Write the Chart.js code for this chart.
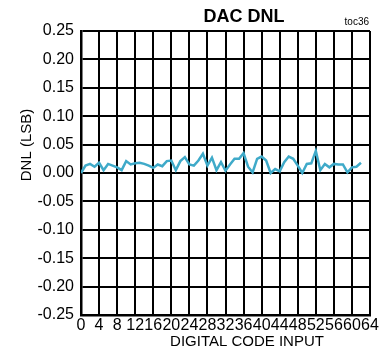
<!DOCTYPE html>
<html>
<head>
<meta charset="utf-8">
<title>DAC DNL</title>
<script src="https://cdn.jsdelivr.net/npm/chart.js@4.4.1/dist/chart.umd.min.js"></script>
<style>
  html, body { margin: 0; padding: 0; background: #fff; }
  canvas { display: block; }
</style>
</head>
<body>
<canvas id="dnlChart" width="386" height="362"></canvas>
<script>
// Codigos de entrada y DNL medido (LSB)
var codes = [0, 1, 2, 3, 4, 5, 6, 7, 8, 9, 10, 11, 12, 13, 14, 15, 16, 17, 18, 19, 20,
    21, 22, 23, 24, 25, 26, 27, 28, 29, 30, 31, 32, 33, 34, 35, 36, 37, 38, 39, 40,
    41, 42, 43, 44, 45, 46, 47, 48, 49, 50, 51, 52, 53, 54, 55, 56, 57, 58, 59, 60,
    61, 62];
var dnl = [0.000, 0.013, 0.016, 0.011, 0.018, 0.005, 0.016, 0.013, 0.010, 0.005, 0.021,
    0.015, 0.017, 0.018, 0.016, 0.013, 0.009, 0.015, 0.012, 0.021, 0.022, 0.005, 0.021,
    0.028, 0.015, 0.013, 0.022, 0.034, 0.013, 0.027, 0.005, 0.019, 0.004, 0.015, 0.025,
    0.025, 0.035, 0.011, 0.001, 0.025, 0.029, 0.022, 0.000, 0.007, 0.003, 0.019, 0.029,
    0.025, 0.013, 0.000, 0.016, 0.017, 0.039, 0.005, 0.016, 0.010, 0.016, 0.015, 0.015,
    0.001, 0.010, 0.011, 0.018];

var xTicks = [0, 4, 8, 12, 16, 20, 24, 28, 32, 36, 40, 44, 48, 52, 56, 60, 64];
var yTicks = [-0.25, -0.20, -0.15, -0.10, -0.05, 0.00, 0.05, 0.10, 0.15, 0.20, 0.25];

var fontFamily = '"Liberation Sans", Arial, sans-serif';

// Textos fijos: titulo, referencia y titulos de ejes
var textos = {
    id: 'textos',
    afterDraw: function (chart) {
        var ctx = chart.ctx;
        ctx.save();
        ctx.fillStyle = '#000';
        ctx.textBaseline = 'middle';

        ctx.textAlign = 'center';
        ctx.font = 'bold 18px ' + fontFamily;
        ctx.fillText('DAC DNL', 244, 17);

        ctx.textAlign = 'right';
        ctx.font = '10px ' + fontFamily;
        ctx.fillText('toc36', 369, 22);

        ctx.textAlign = 'center';
        ctx.font = '15px ' + fontFamily;
        ctx.fillText('DIGITAL CODE INPUT', 247, 342);

        ctx.translate(27, 145);
        ctx.rotate(-Math.PI / 2);
        ctx.fillText('DNL (LSB)', 0, 0);
        ctx.restore();
    }
};

var ctx = document.getElementById('dnlChart').getContext('2d');
var dnlChart = new Chart(ctx, {
    type: 'line',
    data: {
        datasets: [{
            label: 'DNL',
            data: codes.map(function (c, i) { return { x: c, y: dnl[i] }; }),
            borderColor: '#3FAAC9',
            borderWidth: 2.5,
            pointRadius: 0,
            tension: 0,
            fill: false
        }]
    },
    options: {
        responsive: false,
        devicePixelRatio: 1,
        animation: false,
        layout: { padding: { top: 31, right: 16, left: 0, bottom: 0 } },
        plugins: {
            legend: { display: false },
            title: { display: false },
            tooltip: { enabled: false }
        },
        scales: {
            x: {
                type: 'linear',
                min: 0,
                max: 64,
                afterBuildTicks: function (scale) {
                    scale.ticks = xTicks.map(function (v) { return { value: v }; });
                },
                afterFit: function (scale) { scale.height = 47; },
                ticks: {
                    autoSkip: false,
                    maxRotation: 0,
                    minRotation: 0,
                    padding: 1,
                    color: '#000',
                    font: { family: fontFamily, size: 16 }
                },
                grid: { color: '#000', lineWidth: 2, drawTicks: false },
                border: { color: '#000', width: 2.5 }
            },
            y: {
                min: -0.25,
                max: 0.25,
                afterBuildTicks: function (scale) {
                    scale.ticks = yTicks.map(function (v) { return { value: v }; });
                },
                afterFit: function (scale) { scale.width = 81; },
                ticks: {
                    padding: 7,
                    color: '#000',
                    font: { family: fontFamily, size: 16 },
                    callback: function (v) { return v.toFixed(2); }
                },
                grid: { color: '#000', lineWidth: 2, drawTicks: false },
                border: { color: '#000', width: 2.5 }
            }
        }
    },
    plugins: [textos]
});
</script>
</body>
</html>
